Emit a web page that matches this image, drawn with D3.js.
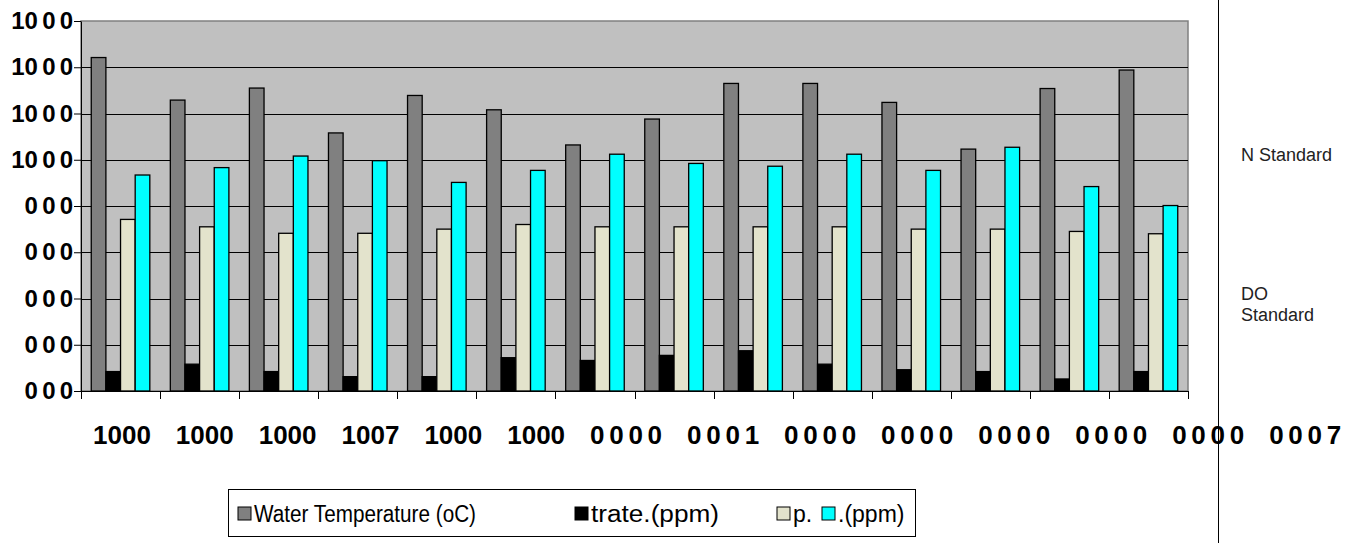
<!DOCTYPE html>
<html><head><meta charset="utf-8">
<script src="https://cdn.jsdelivr.net/npm/d3@7"></script>
<style>body{margin:0;background:#fff}svg{display:block}</style>
</head><body><svg id="c" width="1354" height="543"></svg>
<script>
// ---- data ----
const categories = ["1000","1000","1000","1007","1000","1000","0 0 0 0","0 0 0 1","0 0 0 0","0 0 0 0","0 0 0 0","0 0 0 0","0 0 0 0","0 0 0 7"];
const seriesNames = ["Water Temperature (oC)","trate.(ppm)","p.",".(ppm)"];
const waterTemp = [7.21,6.29,6.55,5.58,6.39,6.08,5.32,5.88,6.65,6.65,6.24,5.23,6.54,6.94];
const nitrate   = [0.42,0.58,0.42,0.31,0.31,0.72,0.66,0.77,0.87,0.58,0.46,0.42,0.26,0.42];
const ph        = [3.71,3.55,3.41,3.41,3.50,3.60,3.55,3.55,3.55,3.55,3.50,3.50,3.45,3.40];
const dissolved = [4.67,4.83,5.08,4.98,4.51,4.77,5.12,4.92,4.86,5.12,4.77,5.27,4.42,4.01];
const yTicks = [0,1,2,3,4,5,6,7,8];
const yTickLabels = ["0 0 0","0 0 0","0 0 0","0 0 0","0 0 0","10 0 0","10 0 0","10 0 0","10 0 0"];
const sideNotes = [["N Standard"],["DO","Standard"]];
const seriesColors = ["#808080","#000000","#e3e3cc","#00ffff"];

const series = [waterTemp, nitrate, ph, dissolved];
const FONT = "Liberation Sans, Arial, sans-serif";

// ---- layout ----
const svg = d3.select("#c");
const L = 81, R = 1188, T = 21, B = 391;
const x = d3.scaleBand().domain(d3.range(categories.length)).range([L, R]).padding(0);
const xs = d3.scaleBand().domain(d3.range(series.length)).range([0, x.bandwidth()]).paddingInner(0).paddingOuter(0.7);
const y = d3.scaleLinear().domain([0, 8]).range([B, T]);

// plot area
svg.append("rect").attr("x", L).attr("y", T).attr("width", R - L).attr("height", B - T)
  .attr("fill", "#c0c0c0").attr("stroke", "#808080").attr("stroke-width", 1.5);

// gridlines
svg.append("g").selectAll("line").data(yTicks.filter(d => d > 0 && d < 8)).join("line")
  .attr("x1", L).attr("x2", R).attr("y1", d => Math.round(y(d)) + 0.5).attr("y2", d => Math.round(y(d)) + 0.5)
  .attr("stroke", "#000").attr("stroke-width", 1);

// bars
const g = svg.append("g");
series.forEach((vals, si) => {
  g.selectAll(null).data(vals).join("rect")
    .attr("x", (d, i) => x(i) + xs(si))
    .attr("y", d => y(d))
    .attr("width", xs.bandwidth())
    .attr("height", d => y(0) - y(d))
    .attr("fill", seriesColors[si])
    .attr("stroke", "#000").attr("stroke-width", 1.3);
});

// y axis
const yAxis = d3.axisLeft(y).tickValues(yTicks).tickSizeInner(7).tickSizeOuter(0)
  .tickFormat((d, i) => yTickLabels[i]);
const ya = svg.append("g").attr("transform", `translate(${L},0)`).call(yAxis);
ya.select(".domain").attr("stroke", "#000");
ya.selectAll(".tick line").attr("stroke", "#000");
ya.selectAll(".tick text").attr("x", -8).attr("font-family", FONT)
  .attr("font-weight", "bold").attr("font-size", 24).style("word-spacing", "-2.5px").attr("fill", "#000");

// x axis
svg.append("line").attr("x1", L).attr("x2", R).attr("y1", B + 0.5).attr("y2", B + 0.5).attr("stroke", "#000");
const bounds = d3.range(categories.length).map(i => x(i)).concat([R]);
svg.append("g").selectAll("line").data(bounds).join("line")
  .attr("x1", d => Math.round(d) + 0.5).attr("x2", d => Math.round(d) + 0.5)
  .attr("y1", B).attr("y2", B + 8).attr("stroke", "#000");

// x labels: flowed left to right
const xl = svg.append("g").attr("font-family", FONT)
  .attr("font-weight", "bold").attr("font-size", 26).attr("fill", "#000").style("word-spacing", "-2.5px");
let cursor = x(0) + 12;
categories.forEach(c => {
  const t = xl.append("text").attr("x", cursor).attr("y", 444).text(c);
  cursor += t.node().getComputedTextLength() + 25;
});

// right separator and notes
svg.append("line").attr("x1", 1218.5).attr("x2", 1218.5).attr("y1", 0).attr("y2", 543).attr("stroke", "#000");
const notes = svg.append("g").attr("font-family", FONT).attr("font-size", 18).attr("fill", "#222");
notes.append("text").attr("x", 1241).attr("y", 161).text(sideNotes[0][0]);
const dn = notes.append("text").attr("x", 1241).attr("y", 300);
dn.append("tspan").attr("x", 1241).text(sideNotes[1][0]);
dn.append("tspan").attr("x", 1241).attr("dy", 21).text(sideNotes[1][1]);

// legend
const lg = svg.append("g");
lg.append("rect").attr("x", 228.5).attr("y", 489.5).attr("width", 687).attr("height", 47)
  .attr("fill", "#fff").attr("stroke", "#000");
const itemX = [238, 575, 777, 822];
const textW = [222, 128, null, null];
seriesNames.forEach((n, i) => {
  lg.append("rect").attr("x", itemX[i]).attr("y", 507).attr("width", 13).attr("height", 13)
    .attr("fill", seriesColors[i]).attr("stroke", "#000").attr("stroke-width", 1);
  const t = lg.append("text").attr("x", itemX[i] + 16).attr("y", 522).attr("font-family", FONT)
    .attr("font-size", 23).attr("fill", "#000").text(n);
  if (textW[i]) t.attr("textLength", textW[i]).attr("lengthAdjust", "spacingAndGlyphs");
});
</script></body></html>
